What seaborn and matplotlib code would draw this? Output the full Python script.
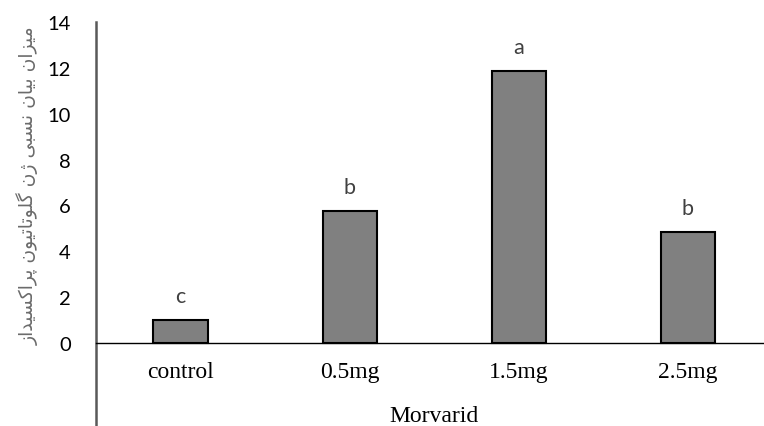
import matplotlib
matplotlib.use("Agg")
import matplotlib.pyplot as plt
import seaborn as sns
import pandas as pd

# Treatment groups, relative expression and significance letters
doses = ["control", "0.5mg", "1.5mg", "2.5mg"]
expression = [1.0, 5.76, 11.86, 4.84]
letters = ["c", "b", "a", "b"]
y_ticks = [0, 2, 4, 6, 8, 10, 12, 14]

x_title = "Morvarid"
y_title = "میزان بیان نسبی ژن گلوتاتیون پراکسیداز"

# --- minimal Persian shaping (matplotlib has no bidi/shaping support) ---
FORMS = {  # isolated, final, initial, medial
    "\u0627": (0xFE8D, 0xFE8E, None, None),
    "\u0628": (0xFE8F, 0xFE90, 0xFE91, 0xFE92),
    "\u067E": (0xFB56, 0xFB57, 0xFB58, 0xFB59),
    "\u062A": (0xFE95, 0xFE96, 0xFE97, 0xFE98),
    "\u062F": (0xFEA9, 0xFEAA, None, None),
    "\u0631": (0xFEAD, 0xFEAE, None, None),
    "\u0632": (0xFEAF, 0xFEB0, None, None),
    "\u0698": (0xFB8A, 0xFB8B, None, None),
    "\u0633": (0xFEB1, 0xFEB2, 0xFEB3, 0xFEB4),
    "\u06A9": (0xFB8E, 0xFB8F, 0xFB90, 0xFB91),
    "\u06AF": (0xFB92, 0xFB93, 0xFB94, 0xFB95),
    "\u0644": (0xFEDD, 0xFEDE, 0xFEDF, 0xFEE0),
    "\u0645": (0xFEE1, 0xFEE2, 0xFEE3, 0xFEE4),
    "\u0646": (0xFEE5, 0xFEE6, 0xFEE7, 0xFEE8),
    "\u0648": (0xFEED, 0xFEEE, None, None),
    "\u06CC": (0xFBFC, 0xFBFD, 0xFBFE, 0xFBFF),
}


def dual(ch):
    return ch in FORMS and FORMS[ch][2] is not None


def shape(text):
    out = []
    for i, ch in enumerate(text):
        if ch not in FORMS:
            out.append(ch)
            continue
        prev = text[i - 1] if i > 0 else ""
        nxt = text[i + 1] if i + 1 < len(text) else ""
        join_prev = dual(prev)
        join_next = dual(ch) and nxt in FORMS
        iso, fin, ini, med = FORMS[ch]
        if join_prev and join_next:
            code = med
        elif join_prev:
            code = fin
        elif join_next:
            code = ini
        else:
            code = iso
        out.append(chr(code))
    return "".join(reversed(out))


sns.set_style("white")
plt.rcParams["font.family"] = ["Lato", "DejaVu Sans"]

df = pd.DataFrame({"dose": doses, "value": expression})

fig = plt.figure(figsize=(7.64, 4.27), dpi=100)
ax = fig.add_axes([96 / 764, 0.0, 1 - 96 / 764, (427 - 23) / 427])

sns.barplot(data=df, x="dose", y="value", color="#808080", saturation=1,
            width=0.32, edgecolor="black", linewidth=1.5, ax=ax)

# spines first: moving a spine resets the tick formatting
for side in ["top", "right"]:
    ax.spines[side].set_visible(False)
ax.spines["left"].set_color("#595959")
ax.spines["left"].set_linewidth(1.8)
ax.spines["bottom"].set_position(("data", 0))
ax.spines["bottom"].set_color("black")
ax.spines["bottom"].set_linewidth(1.0)
ax.set_axisbelow(False)

for i, (v, lab) in enumerate(zip(expression, letters)):
    ax.text(i, v + 0.78, lab, ha="center", va="baseline", fontsize=15.5,
            color="#404040", family="Lato")

ax.set_xlim(-0.5, 3.45)
ax.set_ylim(-3.62, 14)
ax.set_yticks(y_ticks)
ax.set_yticklabels([str(t) for t in y_ticks], fontsize=14.5, color="black")
ax.set_xticks(range(len(doses)))
ax.set_xticklabels(doses, fontdict={"family": "Liberation Serif",
                                    "size": 17, "color": "black"})
ax.tick_params(axis="y", length=0, pad=18)
ax.tick_params(axis="x", length=0, pad=13)

ax.set_xlabel("")
ax.set_ylabel("")
ax.text(1.5, -3.17, x_title, ha="center", va="center", fontsize=17,
        family="Liberation Serif", color="black")

fig.text(28 / 764, (427 - 186) / 427, shape(y_title), rotation=90,
         ha="center", va="center", fontsize=13.5, color="#6b6b6b",
         family="DejaVu Sans")

fig.savefig("out.png", dpi=100)
